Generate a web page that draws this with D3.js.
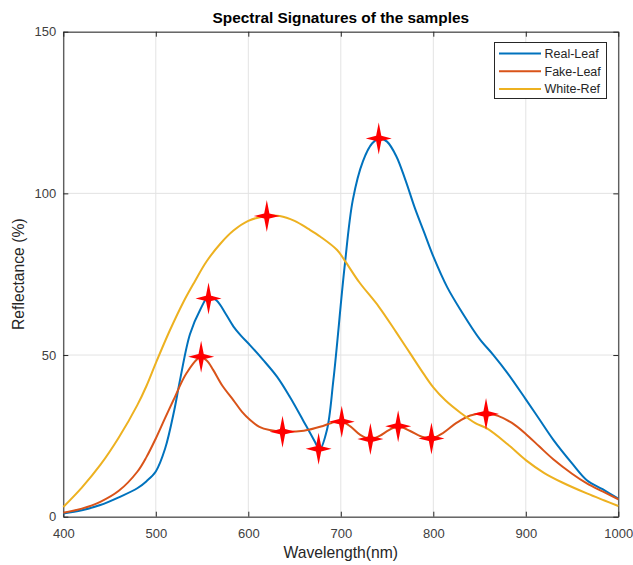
<!DOCTYPE html>
<html>
<head>
<meta charset="utf-8">
<script src="https://cdn.jsdelivr.net/npm/d3@7"></script>
<style>
  body { margin: 0; background: #fff; }
  svg { font-family: "Liberation Sans", Arial, Helvetica, sans-serif; }
</style>
</head>
<body>
<div id="chart"></div>
<script>
// wavelength (nm) / reflectance (%) pairs for each sample
const realLeafNm = [400, 420, 440, 460, 480, 490, 500, 510, 520, 526, 537, 548, 557, 566, 575, 584, 592, 602, 616, 631, 645, 660, 672, 677, 685, 692, 704, 713, 724, 734, 742, 750, 760, 770, 780, 790, 800, 815, 830, 850, 865, 880, 900, 915, 930, 950, 966, 983, 1000];
const realLeafR  = [1, 2, 3.6, 6, 8.8, 11, 14, 21, 33, 42, 56.5, 64, 68, 66.8, 63, 58.8, 56, 53, 48.5, 43.3, 37, 29.4, 23.2, 20.7, 26.8, 42.3, 77, 98, 110, 115.5, 117, 116, 111.5, 104, 95.5, 88, 80.5, 71, 63.7, 55, 50, 44.5, 36.3, 30, 23.7, 16.5, 11.3, 8.5, 5.6];

const fakeLeafNm = [400, 420, 440, 460, 480, 490, 500, 510, 519, 533, 548, 555, 562, 572, 584, 593, 602, 612, 623, 637, 660, 680, 690, 700, 710, 721, 732, 742, 752, 762, 775, 787, 798, 810, 825, 840, 857, 870, 885, 900, 915, 930, 950, 966, 983, 1000];
const fakeLeafR  = [1.2, 2.5, 4.6, 8, 13.9, 18.5, 24.2, 30.5, 36, 44.3, 49.3, 48.3, 45.4, 40.5, 36, 32.5, 29.9, 27.8, 26.8, 26.3, 26.6, 28, 29, 29.5, 28, 25.3, 24, 25, 26.8, 28, 26.5, 24.8, 24.2, 25.8, 29, 31.3, 32, 31.2, 29, 25.6, 21.6, 17.7, 13.3, 10.3, 7.8, 5.4];

const whiteRefNm = [400, 420, 440, 460, 480, 490, 500, 515, 530, 542, 555, 570, 584, 600, 620, 634, 650, 665, 678, 696, 705, 720, 741, 760, 775, 790, 800, 813, 830, 845, 858, 880, 900, 920, 940, 966, 985, 1000];
const whiteRefR  = [3, 9, 16, 24.5, 34.5, 40.5, 47.5, 57.5, 66.5, 72.7, 79, 84.5, 88.5, 91.5, 93, 93, 91.5, 89, 86.6, 82.5, 78.9, 72.5, 65, 57, 50.5, 44, 40, 36, 32, 29, 27.3, 22.5, 17.5, 13.5, 10.5, 7.2, 5, 3.3];

// marked features along the curves
const markNm = [557, 676, 741, 549, 637, 701, 732, 762, 798, 857, 620];
const markR  = [67.5, 21, 117, 49.5, 26.3, 29.4, 24, 28, 24.2, 31.8, 93];

const seriesNames = ["Real-Leaf", "Fake-Leaf", "White-Ref"];
const seriesColors = ["#0072BD", "#D95319", "#EDB120"];

const xTicks = [400, 500, 600, 700, 800, 900, 1000];
const yTicks = [0, 50, 100, 150];

const width = 633;
const height = 565;
const margin = { top: 31.7, right: 14.7, bottom: 48.3, left: 63.3 };
const innerW = width - margin.left - margin.right;
const innerH = height - margin.top - margin.bottom;

const axisColor = "#262626";
const gridColor = "#e3e3e3";

const svg = d3
  .select("#chart")
  .append("svg")
  .attr("width", width)
  .attr("height", height);

const x = d3.scaleLinear().domain([400, 1000]).range([margin.left, margin.left + innerW]);
const y = d3.scaleLinear().domain([0, 150]).range([margin.top + innerH, margin.top]);

// grid
svg
  .append("g")
  .selectAll("line")
  .data(xTicks)
  .join("line")
  .attr("x1", (d) => x(d))
  .attr("x2", (d) => x(d))
  .attr("y1", margin.top)
  .attr("y2", margin.top + innerH)
  .attr("stroke", gridColor)
  .attr("stroke-width", 1);

svg
  .append("g")
  .selectAll("line")
  .data(yTicks)
  .join("line")
  .attr("x1", margin.left)
  .attr("x2", margin.left + innerW)
  .attr("y1", (d) => y(d))
  .attr("y2", (d) => y(d))
  .attr("stroke", gridColor)
  .attr("stroke-width", 1);

// axes, ticks pointing inwards on all four sides
function styleAxis(g) {
  g.select(".domain").attr("stroke", axisColor);
  g.selectAll(".tick line").attr("stroke", axisColor);
  g.selectAll(".tick text").attr("fill", "#404040").style("font-size", "13px");
}

svg
  .append("g")
  .attr("transform", `translate(0,${margin.top + innerH})`)
  .call(d3.axisBottom(x).tickValues(xTicks).tickFormat(d3.format("d")).tickSizeInner(-5).tickSizeOuter(0).tickPadding(12))
  .call(styleAxis);

svg
  .append("g")
  .attr("transform", `translate(0,${margin.top})`)
  .call(d3.axisTop(x).tickValues(xTicks).tickSizeInner(-5).tickSizeOuter(0).tickFormat(""))
  .call(styleAxis);

svg
  .append("g")
  .attr("transform", `translate(${margin.left},0)`)
  .call(d3.axisLeft(y).tickValues(yTicks).tickSizeInner(-5).tickSizeOuter(0).tickPadding(7))
  .call(styleAxis);

svg
  .append("g")
  .attr("transform", `translate(${margin.left + innerW},0)`)
  .call(d3.axisRight(y).tickValues(yTicks).tickSizeInner(-5).tickSizeOuter(0).tickFormat(""))
  .call(styleAxis);

// curves
const series = [
  realLeafNm.map((d, i) => [d, realLeafR[i]]),
  fakeLeafNm.map((d, i) => [d, fakeLeafR[i]]),
  whiteRefNm.map((d, i) => [d, whiteRefR[i]]),
];

const line = d3
  .line()
  .x((d) => x(d[0]))
  .y((d) => y(d[1]))
  .curve(d3.curveCatmullRom.alpha(0.5));

svg
  .append("g")
  .selectAll("path")
  .data(series)
  .join("path")
  .attr("fill", "none")
  .attr("stroke", (d, i) => seriesColors[i])
  .attr("stroke-width", 2)
  .attr("d", line);

// four pointed red stars
const star = "M0,-16 L2.6,-2.6 L13,0 L2.6,2.6 L0,16 L-2.6,2.6 L-13,0 L-2.6,-2.6 Z";
svg
  .append("g")
  .selectAll("path")
  .data(markNm)
  .join("path")
  .attr("d", star)
  .attr("fill", "#ff0000")
  .attr("transform", (d, i) => `translate(${x(d)},${y(markR[i])})`);

// title and axis labels
svg
  .append("text")
  .attr("x", margin.left + innerW / 2)
  .attr("y", 23)
  .attr("text-anchor", "middle")
  .style("font-size", "15.4px")
  .style("font-weight", "bold")
  .attr("fill", "#000")
  .text("Spectral Signatures of the samples");

svg
  .append("text")
  .attr("x", margin.left + innerW / 2)
  .attr("y", 558)
  .attr("text-anchor", "middle")
  .style("font-size", "15.7px")
  .attr("fill", "#262626")
  .text("Wavelength(nm)");

svg
  .append("text")
  .attr("transform", `translate(24,${margin.top + innerH / 2}) rotate(-90)`)
  .attr("text-anchor", "middle")
  .style("font-size", "15.7px")
  .attr("fill", "#262626")
  .text("Reflectance (%)");

// legend
const legend = svg.append("g").attr("transform", "translate(494.5,42.5)");
legend
  .append("rect")
  .attr("width", 112)
  .attr("height", 56)
  .attr("fill", "#fff")
  .attr("stroke", axisColor)
  .attr("stroke-width", 1);

const rows = legend
  .selectAll("g")
  .data(seriesNames)
  .join("g")
  .attr("transform", (d, i) => `translate(0,${11 + i * 17.8})`);

rows
  .append("line")
  .attr("x1", 4.5)
  .attr("x2", 46.5)
  .attr("stroke", (d, i) => seriesColors[i])
  .attr("stroke-width", 2);

rows
  .append("text")
  .attr("x", 50)
  .attr("dy", "0.35em")
  .style("font-size", "12.5px")
  .attr("fill", "#262626")
  .text((d) => d);
</script>
</body>
</html>
